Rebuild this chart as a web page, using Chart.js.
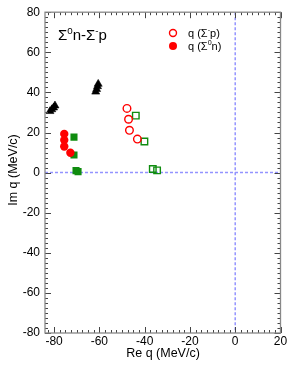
<!DOCTYPE html>
<html>
<head>
<meta charset="utf-8">
<script src="https://cdn.jsdelivr.net/npm/chart.js@4.4.0/dist/chart.umd.min.js"></script>
<style>
  html, body { margin: 0; padding: 0; background: #fff; }
  #chart { display: block; }
</style>
</head>
<body>
<canvas id="chart" width="303" height="392"></canvas>
<script>
'use strict';

/* ── DATA ─────────────────────────────────────────────────────── */
const xTicks = [-80, -60, -40, -20, 0, 20];
const yTicks = [-80, -60, -40, -20, 0, 20, 40, 60, 80];

// q (Σ⁻p) — open red circles
const sigmaMinusPX = [-47.8, -47.1, -46.7, -43.2];
const sigmaMinusPY = [32.0, 26.6, 21.1, 16.7];

// q (Σ⁰n) — filled red circles
const sigmaZeroNX = [-75.5, -75.5, -75.5, -72.8];
const sigmaZeroNY = [19.3, 16.2, 13.0, 9.9];

// open green squares
const openSquareX = [-43.9, -40.1, -36.4, -34.5];
const openSquareY = [28.4, 15.5, 1.8, 1.1];

// filled green squares
const filledSquareX = [-71.2, -71.2, -70.3, -69.4];
const filledSquareY = [17.7, 8.8, 1.0, 0.5];

// black triangles
const triangleX = [-81.8, -81.0, -80.2, -79.6, -61.6, -61.2, -60.8, -60.5];
const triangleY = [30.6, 31.5, 32.4, 33.4, 40.3, 41.6, 43.0, 44.2];

const X_MIN = -84, X_MAX = 20;
const Y_MIN = -80, Y_MAX = 80;
const MINOR_STEP = 2.5;

const FONT = '"Liberation Sans", Arial, sans-serif';
const RED   = '#ff0000';
const GREEN = '#0f8c0f';

const pts = (xs, ys) => xs.map((x, i) => ({ x, y: ys[i] }));

/* ── HELPERS ──────────────────────────────────────────────────── */
// draw text made of runs, some of them superscript
function drawRich(ctx, parts, x, y, size) {
  let cx = x;
  parts.forEach(p => {
    const s = p.sup ? size * 0.65 : size;
    ctx.font = `${s}px ${FONT}`;
    ctx.fillText(p.t, cx, p.sup ? y - size * 0.42 : y);
    cx += ctx.measureText(p.t).width;
  });
}

/* ── FRAME / TICKS / LABELS PLUGIN ───────────────────────────── */
const framePlugin = {
  id: 'frame',
  beforeDatasetsDraw(chart) {
    const { ctx, chartArea: a, scales: { x, y } } = chart;
    ctx.save();
    ctx.strokeStyle = 'rgba(120,120,255,0.8)';
    ctx.lineWidth = 1.5;
    ctx.setLineDash([3, 2]);
    const y0 = y.getPixelForValue(0);
    const x0 = x.getPixelForValue(0);
    ctx.beginPath();
    ctx.moveTo(a.left, y0); ctx.lineTo(a.right, y0);
    ctx.moveTo(x0, a.top);  ctx.lineTo(x0, a.bottom);
    ctx.stroke();
    ctx.restore();
  },
  afterDatasetsDraw(chart) {
    const { ctx, chartArea: a, scales: { x, y } } = chart;
    ctx.save();

    // ticks on all four sides, pointing inward
    ctx.strokeStyle = '#444';
    ctx.lineWidth = 1;
    ctx.beginPath();
    for (let v = Math.ceil(X_MIN / MINOR_STEP) * MINOR_STEP; v <= X_MAX; v += MINOR_STEP) {
      const len = v % 20 === 0 ? 6 : 3;
      const px = Math.round(x.getPixelForValue(v)) + 0.5;
      ctx.moveTo(px, a.bottom); ctx.lineTo(px, a.bottom - len);
      ctx.moveTo(px, a.top);    ctx.lineTo(px, a.top + len);
    }
    for (let v = Y_MIN; v <= Y_MAX; v += MINOR_STEP) {
      const len = v % 20 === 0 ? 6 : 3;
      const py = Math.round(y.getPixelForValue(v)) + 0.5;
      ctx.moveTo(a.left, py);  ctx.lineTo(a.left + len, py);
      ctx.moveTo(a.right, py); ctx.lineTo(a.right - len, py);
    }
    ctx.stroke();

    // frame
    ctx.strokeStyle = '#888';
    ctx.lineWidth = 1.3;
    ctx.strokeRect(a.left, a.top, a.right - a.left, a.bottom - a.top);

    // axis titles
    ctx.fillStyle = '#000';
    ctx.font = `12.5px ${FONT}`;
    ctx.textAlign = 'center';
    ctx.textBaseline = 'middle';
    ctx.fillText('Re q (MeV/c)', 163, 354);
    ctx.save();
    ctx.translate(14, 170);
    ctx.rotate(-Math.PI / 2);
    ctx.fillText('Im q (MeV/c)', 0, 0);
    ctx.restore();

    // reaction label
    ctx.textAlign = 'left';
    ctx.textBaseline = 'alphabetic';
    drawRich(ctx, [
      { t: 'Σ' }, { t: '0', sup: true }, { t: 'n-Σ' }, { t: '-', sup: true }, { t: 'p' },
    ], 58, 40, 15);

    // legend
    ctx.lineWidth = 1.4;
    ctx.strokeStyle = RED;
    ctx.fillStyle = RED;
    ctx.beginPath(); ctx.arc(173, 33, 3.5, 0, Math.PI * 2); ctx.stroke();
    ctx.beginPath(); ctx.arc(173, 46, 4, 0, Math.PI * 2); ctx.fill();
    ctx.fillStyle = '#000';
    drawRich(ctx, [{ t: 'q (Σ' }, { t: '-', sup: true }, { t: 'p)' }], 188, 37, 11);
    drawRich(ctx, [{ t: 'q (Σ' }, { t: '0', sup: true }, { t: 'n)' }], 188, 50, 11);

    ctx.restore();
  },
};

/* ── CHART ────────────────────────────────────────────────────── */
new Chart(document.getElementById('chart'), {
  type: 'scatter',
  data: {
    datasets: [
      {
        label: 'q (Σ⁻p)',
        data: pts(sigmaMinusPX, sigmaMinusPY),
        pointStyle: 'circle',
        pointRadius: 3.8,
        borderColor: RED,
        backgroundColor: 'rgba(0,0,0,0)',
        borderWidth: 1.4,
      },
      {
        label: 'q (Σ⁰n)',
        data: pts(sigmaZeroNX, sigmaZeroNY),
        pointStyle: 'circle',
        pointRadius: 4.2,
        borderColor: RED,
        backgroundColor: RED,
        borderWidth: 0,
      },
      {
        label: 'open squares',
        data: pts(openSquareX, openSquareY),
        pointStyle: 'rect',
        pointRadius: 4.6,
        borderColor: GREEN,
        backgroundColor: 'rgba(0,0,0,0)',
        borderWidth: 1.4,
      },
      {
        label: 'filled squares',
        data: pts(filledSquareX, filledSquareY),
        pointStyle: 'rect',
        pointRadius: 5,
        borderColor: GREEN,
        backgroundColor: GREEN,
        borderWidth: 0,
      },
      {
        label: 'triangles',
        data: pts(triangleX, triangleY),
        pointStyle: 'triangle',
        pointRadius: 4.6,
        borderColor: '#000',
        backgroundColor: '#000',
        borderWidth: 0.6,
      },
    ],
  },
  options: {
    responsive: false,
    animation: false,
    events: [],
    layout: { padding: { top: 9, right: 22.5, left: 0, bottom: 0 } },
    plugins: {
      legend: { display: false },
      tooltip: { enabled: false },
    },
    scales: {
      x: {
        type: 'linear',
        min: X_MIN,
        max: X_MAX,
        afterBuildTicks: s => { s.ticks = xTicks.map(v => ({ value: v })); },
        afterFit: s => { s.height = 59; },
        grid: { display: false, drawTicks: false },
        border: { display: false },
        ticks: { color: '#000', padding: 1, maxRotation: 0, font: { family: FONT, size: 12 } },
      },
      y: {
        type: 'linear',
        min: Y_MIN,
        max: Y_MAX,
        afterBuildTicks: s => { s.ticks = yTicks.map(v => ({ value: v })); },
        afterFit: s => { s.width = 45; },
        grid: { display: false, drawTicks: false },
        border: { display: false },
        ticks: { color: '#000', padding: 5, font: { family: FONT, size: 12 } },
      },
    },
  },
  plugins: [framePlugin],
});
</script>
</body>
</html>
